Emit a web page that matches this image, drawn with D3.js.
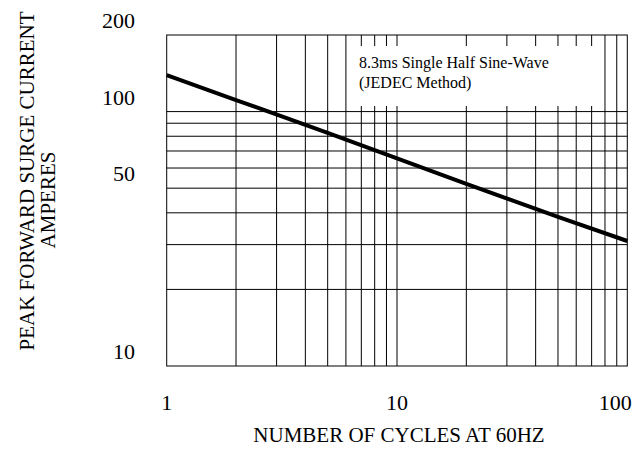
<!DOCTYPE html>
<html>
<head>
<meta charset="utf-8">
<script src="https://cdn.jsdelivr.net/npm/d3@7"></script>
<style>
  body { margin: 0; background: #fff; }
  text { font-family: "Liberation Serif", "Times New Roman", serif; fill: #000; }
</style>
</head>
<body>
<div id="chart"></div>
<script>
// surge current vs number of cycles
const cycles = [1, 2, 5, 10, 20, 50, 100];
const current = [139, 111, 82.5, 65.5, 52, 38.6, 31];

const xGrid = [2, 3, 4, 5, 6, 7, 8, 9, 10, 20, 30, 40, 50, 60, 70, 80, 90];
const yGrid = [20, 30, 40, 50, 60, 70, 80, 90, 100];
const xTicks = [1, 10, 100];
const yTicks = [10, 50, 100, 200];

const noteLines = ['8.3ms Single Half Sine-Wave', '(JEDEC Method)'];

const w = 641;
const h = 456;
const margin = { top: 35, right: 13.7, bottom: 90, left: 166.7 };

const xScale = d3.scaleLog()
                 .domain([1, 100])
                 .range([margin.left, w - margin.right]);

const yScale = d3.scaleLog()
                 .domain([10, 200])
                 .range([h - margin.bottom, margin.top]);

const svg = d3.select('#chart')
              .append('svg')
              .attr('width', w)
              .attr('height', h);

// grid lines
svg.append('g')
   .selectAll('line')
   .data(xGrid)
   .enter()
   .append('line')
   .attr('x1', d => xScale(d))
   .attr('x2', d => xScale(d))
   .attr('y1', yScale(200))
   .attr('y2', yScale(10))
   .style('stroke', '#000')
   .style('stroke-width', 1);

svg.append('g')
   .selectAll('line')
   .data(yGrid)
   .enter()
   .append('line')
   .attr('x1', xScale(1))
   .attr('x2', xScale(100))
   .attr('y1', d => yScale(d))
   .attr('y2', d => yScale(d))
   .style('stroke', '#000')
   .style('stroke-width', 1);

// frame
svg.append('rect')
   .attr('x', xScale(1))
   .attr('y', yScale(200))
   .attr('width', xScale(100) - xScale(1))
   .attr('height', yScale(10) - yScale(200))
   .style('fill', 'none')
   .style('stroke', '#000')
   .style('stroke-width', 1);

// note box hides part of the grid
svg.append('rect')
   .attr('x', 349)
   .attr('y', 46)
   .attr('width', 251)
   .attr('height', 60)
   .style('fill', '#fff');

svg.append('g')
   .selectAll('text')
   .data(noteLines)
   .enter()
   .append('text')
   .attr('x', 359)
   .attr('y', (d, i) => 68 + i * 20)
   .style('font-size', '16px')
   .text(d => d);

// curve
const line = d3.line()
               .x(d => xScale(d[0]))
               .y(d => yScale(d[1]));

svg.append('path')
   .datum(cycles.map((c, i) => [c, current[i]]))
   .attr('d', line)
   .style('fill', 'none')
   .style('stroke', '#000')
   .style('stroke-width', 4);

// tick labels
svg.append('g')
   .selectAll('text')
   .data(xTicks)
   .enter()
   .append('text')
   .attr('x', d => d === 100 ? xScale(d) - 12 : xScale(d))
   .attr('y', 410)
   .attr('text-anchor', 'middle')
   .style('font-size', '22px')
   .text(d => d);

svg.append('g')
   .selectAll('text')
   .data(yTicks)
   .enter()
   .append('text')
   .attr('x', 135)
   .attr('y', d => yScale(d) - 7)
   .attr('text-anchor', 'end')
   .style('font-size', '22px')
   .text(d => d);

// axis titles
svg.append('text')
   .attr('x', 399)
   .attr('y', 442)
   .attr('text-anchor', 'middle')
   .style('font-size', '21px')
   .text('NUMBER OF CYCLES AT 60HZ');

svg.append('text')
   .attr('transform', 'translate(34, 181) rotate(-90)')
   .attr('text-anchor', 'middle')
   .style('font-size', '21px')
   .text('PEAK FORWARD SURGE CURRENT');

svg.append('text')
   .attr('transform', 'translate(55, 200) rotate(-90)')
   .attr('text-anchor', 'middle')
   .style('font-size', '21px')
   .text('AMPERES');
</script>
</body>
</html>
